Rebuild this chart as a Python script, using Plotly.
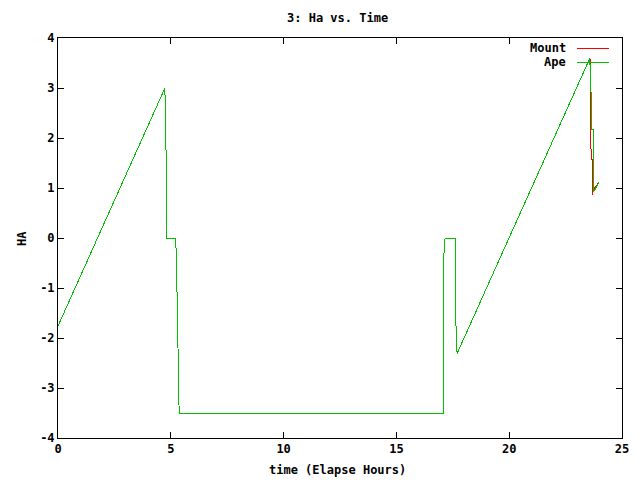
import plotly.graph_objects as go

# Shared part of the track (hours, HA)
common_t = [0.0, 4.74, 4.76, 4.80, 4.83, 5.20, 5.245, 5.28, 5.335, 5.37,
            17.07, 17.07, 17.12, 17.17, 17.61, 17.61, 17.64, 17.69, 23.58]
common_ha = [-1.76, 3.0, 2.25, 1.55, 0.0, 0.0, -0.3, -1.35, -2.77, -3.5,
             -3.5, -1.43, -0.05, 0.0, 0.0, -0.57, -1.74, -2.31, 3.6]

mount_tail_t = [23.60, 23.60, 23.63, 23.63, 23.68, 23.68, 23.71, 23.99]
mount_tail_ha = [3.37, 2.93, 2.90, 1.57, 1.57, 0.87, 0.95, 1.12]

ape_tail_t = [23.59, 23.65, 23.65, 23.73, 23.73, 23.75, 23.99]
ape_tail_ha = [3.0, 2.87, 2.17, 2.17, 0.97, 0.93, 1.12]

mount_t = common_t + mount_tail_t
mount_ha = common_ha + mount_tail_ha
ape_t = common_t + ape_tail_t
ape_ha = common_ha + ape_tail_ha

x_ticks = [0, 5, 10, 15, 20, 25]
y_ticks = [-4, -3, -2, -1, 0, 1, 2, 3, 4]

FONT = "DejaVu Sans Mono"
RED = "#ff0000"
GREEN = "#00c000"

fig = go.Figure()
fig.add_trace(go.Scatter(x=mount_t, y=mount_ha, mode="lines", name="Mount",
                         line=dict(color=RED, width=1), showlegend=False))
fig.add_trace(go.Scatter(x=ape_t, y=ape_ha, mode="lines", name="Ape",
                         line=dict(color=GREEN, width=1), showlegend=False))

axis_common = dict(showgrid=False, zeroline=False, showline=True, linecolor="black",
                   linewidth=1, mirror="ticks", ticks="inside", ticklen=6,
                   tickcolor="black",
                   tickfont=dict(family=FONT, size=12, color="black"))

fig.update_xaxes(range=[0, 25], tickvals=x_ticks,
                 ticktext=["<b>%d</b>" % v for v in x_ticks], **axis_common)
fig.update_yaxes(range=[-4, 4], tickvals=y_ticks,
                 ticktext=["<b>%d</b>" % v for v in y_ticks], **axis_common)

L, R, T, B = 58, 18, 38, 42
W, H = 640, 480
pw, ph = W - L - R, H - T - B

def px(xp):
    return (xp - L) / pw

def py(yp):
    return (H - B - yp) / ph

annots = [
    dict(text="<b>3: Ha vs. Time</b>", x=px(337), y=py(18)),
    dict(text="<b>time (Elapse Hours)</b>", x=px(337), y=py(470)),
    dict(text="<b>HA</b>", x=px(22), y=py(239), textangle=-90),
    dict(text="<b>Mount</b>", x=px(568), y=py(48), xanchor="right"),
    dict(text="<b>Ape</b>", x=px(568), y=py(62), xanchor="right"),
]
for a in annots:
    a.setdefault("xanchor", "center")
    fig.add_annotation(xref="paper", yref="paper", yanchor="middle", showarrow=False,
                       font=dict(family=FONT, size=12, color="black"), **a)

fig.add_shape(type="line", xref="paper", yref="paper", x0=px(577), x1=px(609),
              y0=py(48), y1=py(48), line=dict(color=RED, width=1))
fig.add_shape(type="line", xref="paper", yref="paper", x0=px(577), x1=px(609),
              y0=py(62), y1=py(62), line=dict(color=GREEN, width=1))

fig.update_layout(width=W, height=H, margin=dict(l=L, r=R, t=T, b=B),
                  paper_bgcolor="white", plot_bgcolor="white",
                  font=dict(family=FONT, size=12, color="black"))

post = """
function crisp(){
  document.querySelectorAll('.scatterlayer path, .layer-above path, .xlines-above, .ylines-above').forEach(function(p){
    p.style.shapeRendering = 'crispEdges';
  });
}
crisp();
setTimeout(crisp, 50);
"""

fig.write_html("out.html", post_script=post)
